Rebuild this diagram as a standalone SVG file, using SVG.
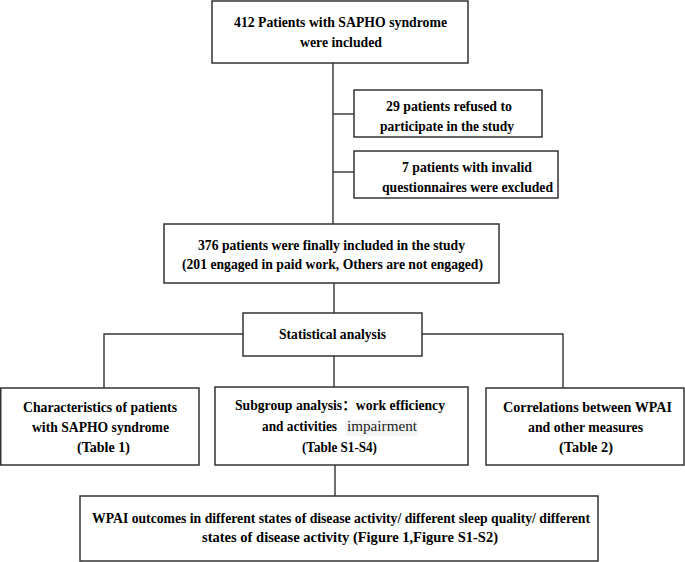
<svg xmlns="http://www.w3.org/2000/svg" width="685" height="562" viewBox="0 0 685 562">
<style>
.box{fill:#fff;stroke:#333;stroke-width:1.5}
.ln{fill:none;stroke:#333;stroke-width:1.4}
.t{font-family:"Liberation Serif","DejaVu Serif",serif;font-weight:bold;font-size:14px;fill:#000}
.r{font-family:"Liberation Serif","DejaVu Serif",serif;font-weight:normal;font-size:14px;fill:#222}
.mix{font-family:"Liberation Serif","Noto Sans CJK SC",serif}
</style>
<rect width="685" height="562" fill="#fff"/>
<g id="connectors">
<path class="ln" d="M333 63V224"/>
<path class="ln" d="M333 114H354"/>
<path class="ln" d="M333 172H354"/>
<path class="ln" d="M334 283V313"/>
<path class="ln" d="M243 334H104V388"/>
<path class="ln" d="M422 334H563V388"/>
<path class="ln" d="M334 356V387"/>
<path class="ln" d="M335 465V496"/>
</g>
<g id="n-included">
<rect class="box" x="212" y="1" width="256" height="62"/>
<text class="t" x="234" y="27" textLength="213" lengthAdjust="spacingAndGlyphs">412 Patients with SAPHO syndrome</text>
<text class="t" x="300" y="47" textLength="82" lengthAdjust="spacingAndGlyphs">were included</text>
</g>
<g id="n-refused">
<rect class="box" x="354" y="90" width="188" height="47"/>
<text class="t" x="386" y="111" textLength="126" lengthAdjust="spacingAndGlyphs">29 patients refused to</text>
<text class="t" x="380" y="131" textLength="134" lengthAdjust="spacingAndGlyphs">participate in the study</text>
</g>
<g id="n-invalid">
<rect class="box" x="354" y="151" width="204" height="47"/>
<text class="t" x="402" y="172" textLength="130" lengthAdjust="spacingAndGlyphs">7 patients with invalid</text>
<text class="t" x="382" y="192" textLength="171" lengthAdjust="spacingAndGlyphs">questionnaires were excluded</text>
</g>
<g id="n-final">
<rect class="box" x="164" y="224" width="335" height="59"/>
<text class="t" x="198" y="250" textLength="267" lengthAdjust="spacingAndGlyphs">376 patients were finally included in the study</text>
<text class="t" x="182" y="269" textLength="301" lengthAdjust="spacingAndGlyphs">(201 engaged in paid work, Others are not engaged)</text>
</g>
<g id="n-stat">
<rect class="box" x="243" y="313" width="179" height="43"/>
<text class="t" x="279" y="339" textLength="107" lengthAdjust="spacingAndGlyphs">Statistical analysis</text>
</g>
<g id="n-characteristics">
<rect class="box" x="0.75" y="388" width="198.25" height="77"/>
<text class="t" x="23" y="412" textLength="154" lengthAdjust="spacingAndGlyphs">Characteristics of patients</text>
<text class="t" x="32" y="432" textLength="137" lengthAdjust="spacingAndGlyphs">with SAPHO syndrome</text>
<text class="t" x="77" y="452" textLength="53" lengthAdjust="spacingAndGlyphs">(Table 1)</text>
</g>
<g id="n-subgroup">
<rect class="box" x="215" y="387" width="253" height="78"/>
<text class="t mix" x="235" y="410" textLength="210" lengthAdjust="spacingAndGlyphs">Subgroup analysis：work efficiency</text>
<text class="t" x="262" y="431" textLength="75" lengthAdjust="spacingAndGlyphs">and activities</text>
<rect x="345" y="420" width="73" height="16" fill="#f4f4f4"/>
<text class="r" x="347" y="431" textLength="70" lengthAdjust="spacingAndGlyphs">impairment</text>
<text class="t" x="302" y="452" textLength="75" lengthAdjust="spacingAndGlyphs">(Table S1-S4)</text>
</g>
<g id="n-correlations">
<rect class="box" x="486" y="388" width="198" height="77"/>
<text class="t" x="503" y="412" textLength="169" lengthAdjust="spacingAndGlyphs">Correlations between WPAI</text>
<text class="t" x="528" y="432" textLength="115" lengthAdjust="spacingAndGlyphs">and other measures</text>
<text class="t" x="559" y="452" textLength="54" lengthAdjust="spacingAndGlyphs">(Table 2)</text>
</g>
<g id="n-outcomes">
<rect class="box" x="80" y="496" width="518" height="65"/>
<text class="t" x="92" y="523" textLength="498" lengthAdjust="spacingAndGlyphs">WPAI outcomes in different states of disease activity/ different sleep quality/ different</text>
<text class="t" x="202" y="542" textLength="296" lengthAdjust="spacingAndGlyphs">states of disease activity (Figure 1,Figure S1-S2)</text>
</g>
</svg>
